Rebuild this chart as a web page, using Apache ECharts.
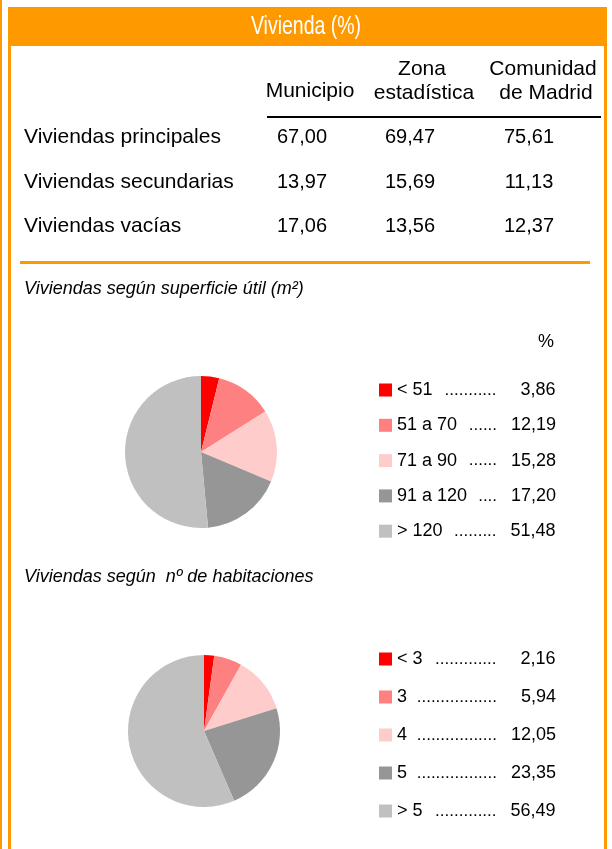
<!DOCTYPE html>
<html>
<head>
<meta charset="utf-8">
<script src="https://cdn.jsdelivr.net/npm/echarts@6/dist/echarts.min.js"></script>
<style>
  html, body { margin: 0; padding: 0; background: #fff; }
  #chart { width: 612px; height: 849px; }
</style>
</head>
<body>
<div id="chart"></div>
<script>
// table data
const rowLabels = ['Viviendas principales', 'Viviendas secundarias', 'Viviendas vacías']
const colHeaders = [['Municipio'], ['Zona', 'estadística'], ['Comunidad', 'de Madrid']]
const municipio = [67.0, 13.97, 17.06]
const zona = [69.47, 15.69, 13.56]
const comunidad = [75.61, 11.13, 12.37]

// pie data
const superficieLabels = ['< 51', '51 a 70', '71 a 90', '91 a 120', '> 120']
const superficieValues = [3.86, 12.19, 15.28, 17.2, 51.48]
const habitacionesLabels = ['< 3', '3', '4', '5', '> 5']
const habitacionesValues = [2.16, 5.94, 12.05, 23.35, 56.49]
const sliceColors = ['#ff0000', '#ff8080', '#ffcccc', '#969696', '#c0c0c0']

const ORANGE = '#ff9900'
const FONT = '"Liberation Sans", Arial, sans-serif'
const fmt = v => v.toFixed(2).replace('.', ',')

const ctx = document.createElement('canvas').getContext('2d')
const textW = (s, size) => {
  ctx.font = size + 'px ' + FONT
  return ctx.measureText(s).width
}
const DOT_SIZE = 17
const dotW = textW('.', DOT_SIZE)

const valueMap = {}
superficieLabels.forEach((n, i) => { valueMap[n] = superficieValues[i] })
habitacionesLabels.forEach((n, i) => { valueMap[n] = habitacionesValues[i] })

// width left for the dotted leader after the label
const leaderW = name => Math.round(100 - textW(name, 18))

const legendFormatter = name => {
  const w = leaderW(name)
  const n = Math.max(3, Math.floor((w - 8) / dotW))
  return '{l|' + name + '}{d' + w + '|' + '.'.repeat(n) + '}{v|' + fmt(valueMap[name]) + '}'
}

const buildRich = labels => {
  const rich = {
    l: { fontSize: 18, fontFamily: FONT, color: '#000' },
    v: { fontSize: 18, fontFamily: FONT, color: '#000', width: 59, align: 'right' }
  }
  labels.forEach(name => {
    const w = leaderW(name)
    rich['d' + w] = { fontSize: DOT_SIZE, fontFamily: FONT, color: '#000', width: w, align: 'right' }
  })
  return rich
}

const txt = (x, y, text, extra, el) => Object.assign({
  type: 'text',
  x, y,
  silent: true,
  style: Object.assign({
    text,
    fill: '#000',
    font: '21px ' + FONT,
    textAlign: 'left',
    textVerticalAlign: 'middle'
  }, extra || {})
}, el || {})

const graphics = [
  // frame
  { type: 'rect', shape: { x: 0, y: 0, width: 2, height: 849 }, style: { fill: ORANGE } },
  { type: 'rect', shape: { x: 8, y: 7, width: 3, height: 842 }, style: { fill: ORANGE } },
  { type: 'rect', shape: { x: 604, y: 7, width: 3, height: 842 }, style: { fill: ORANGE } },
  { type: 'rect', shape: { x: 8, y: 7, width: 599, height: 39 }, style: { fill: ORANGE } },
  txt(306, 27, 'Vivienda (%)', { fill: '#fff', font: '26px "Liberation Sans Narrow", "Arial Narrow", ' + FONT, textAlign: 'center' }, { scaleX: 0.75 }),
  // table header
  txt(310, 91, colHeaders[0][0], { textAlign: 'center' }),
  txt(422, 69, colHeaders[1][0], { textAlign: 'center' }),
  txt(424, 93, colHeaders[1][1], { textAlign: 'center' }),
  txt(543, 69, colHeaders[2][0], { textAlign: 'center' }),
  txt(546, 93, colHeaders[2][1], { textAlign: 'center' }),
  { type: 'rect', shape: { x: 267, y: 116, width: 334, height: 2 }, style: { fill: '#000' } },
  // separator
  { type: 'rect', shape: { x: 20, y: 261, width: 570, height: 3 }, style: { fill: ORANGE } },
  txt(24, 289, 'Viviendas según superficie útil (m²)', { font: 'italic 18px ' + FONT }),
  txt(546, 342, '%', { font: '18px ' + FONT, textAlign: 'center' }),
  txt(24, 577, 'Viviendas según  nº de habitaciones', { font: 'italic 18px ' + FONT })
]

const rowY = [137, 182, 226]
rowLabels.forEach((label, i) => {
  graphics.push(txt(24, rowY[i], label))
  graphics.push(txt(302, rowY[i], fmt(municipio[i]), { textAlign: 'center', font: '20px ' + FONT }))
  graphics.push(txt(410, rowY[i], fmt(zona[i]), { textAlign: 'center', font: '20px ' + FONT }))
  graphics.push(txt(529, rowY[i], fmt(comunidad[i]), { textAlign: 'center', font: '20px ' + FONT }))
})

const pieSeries = (labels, values, center) => ({
  type: 'pie',
  center,
  radius: 76,
  startAngle: 90,
  clockwise: true,
  silent: true,
  animation: false,
  label: { show: false },
  labelLine: { show: false },
  itemStyle: { borderWidth: 0 },
  emphasis: { disabled: true },
  data: labels.map((name, i) => ({ name, value: values[i], itemStyle: { color: sliceColors[i] } }))
})

const legendFor = (labels, top, gap) => ({
  orient: 'vertical',
  left: 379,
  top,
  padding: 0,
  itemWidth: 13,
  itemHeight: 13,
  itemGap: gap,
  icon: 'rect',
  selectedMode: false,
  data: labels,
  formatter: legendFormatter,
  textStyle: { fontSize: 18, fontFamily: FONT, color: '#000', lineHeight: 20, rich: buildRich(labels) }
})

const chart = echarts.init(document.getElementById('chart'), null, { renderer: 'canvas' })
chart.setOption({
  animation: false,
  backgroundColor: '#fff',
  legend: [
    legendFor(superficieLabels, 380, 15.3),
    legendFor(habitacionesLabels, 649, 18)
  ],
  series: [
    pieSeries(superficieLabels, superficieValues, [201, 452]),
    pieSeries(habitacionesLabels, habitacionesValues, [204, 731])
  ],
  graphic: graphics
})
</script>
</body>
</html>
